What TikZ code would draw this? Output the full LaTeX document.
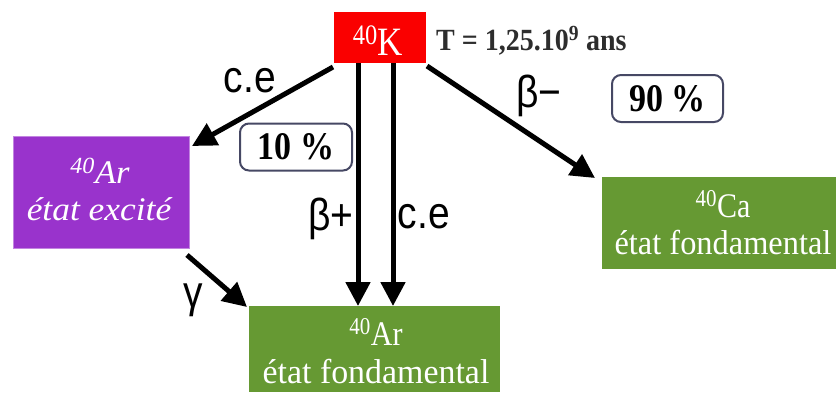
\documentclass[tikz,border=0pt]{standalone}
\usepackage{fontspec}
\setmainfont{Liberation Serif}
\newfontfamily\labfont{Liberation Sans}
\usetikzlibrary{arrows.meta}
\definecolor{kred}{RGB}{250,0,0}
\definecolor{arpurple}{RGB}{153,51,204}
\definecolor{fgreen}{RGB}{102,153,51}
\definecolor{pctborder}{RGB}{70,72,100}
\definecolor{ttext}{RGB}{45,45,45}
\newcommand{\vs}[2][1.15]{\scalebox{1}[#1]{#2}}
\begin{document}
\begin{tikzpicture}[x=1pt,y=-1pt,
  boxrect/.style={draw=none,inner sep=0pt,outer sep=0pt},
  boxtxt/.style={anchor=base,inner sep=0pt,text=white},
  pct/.style={draw=pctborder,line width=2pt,rounded corners=9pt,fill=white,inner sep=0pt,
     minimum width=#1},
  lab/.style={inner sep=0pt,font=\labfont\fontsize{39}{40}\selectfont},
  arr/.style={line width=5pt,-{Triangle[length=24pt,width=24pt]}}]
\useasboundingbox (0,0) rectangle (836,392);
% boxes
\node[boxrect,fill=kred,minimum width=92pt,minimum height=51pt] (K) at (380,37.5) {};
\node[boxrect,fill=arpurple,draw=arpurple!60,line width=1pt,minimum width=176pt,minimum height=112pt] (ArX) at (101,192) {};
\node[boxrect,fill=fgreen,minimum width=234pt,minimum height=92pt] (Ca) at (719,223) {};
\node[boxrect,fill=fgreen,minimum width=251pt,minimum height=86pt] (ArF) at (374.5,349) {};
% box texts
\node[boxtxt,font=\fontsize{35}{40}\selectfont] (Kt) at (378,55) {\vs{\textsuperscript{40}K}};
\node[anchor=base west,inner sep=0pt,text=ttext,font=\bfseries\fontsize{28}{30}\selectfont] (T) at (436,50) {\vs[1.1]{T = 1,25.10\textsuperscript{9} ans}};
\node[boxtxt,font=\itshape\fontsize{30}{34}\selectfont] (ArX1) at (100,183) {\scalebox{1.15}[1.1]{\textsuperscript{40}Ar}};
\node[boxtxt,font=\itshape\fontsize{30}{34}\selectfont] (ArX2) at (99,220) {\scalebox{1.18}[1.1]{état excité}};
\node[boxtxt,font=\fontsize{30}{34}\selectfont] (Ca1) at (723,217) {\vs{\textsuperscript{40}Ca}};
\node[boxtxt,font=\fontsize{30}{34}\selectfont] (Ca2) at (723,254) {\scalebox{1.08}[1.15]{état fondamental}};
\node[boxtxt,font=\fontsize{30}{34}\selectfont] (ArF1) at (376,345) {\vs{\textsuperscript{40}Ar}};
\node[boxtxt,font=\fontsize{30}{34}\selectfont] (ArF2) at (376,383) {\scalebox{1.13}[1.15]{état fondamental}};
% percentages
\node[pct=112pt,minimum height=47pt,font=\bfseries\fontsize{34}{38}\selectfont] (p10) at (296,147) {\vs{10 \%}};
\node[pct=111pt,minimum height=47pt,font=\bfseries\fontsize{34}{38}\selectfont] (p90) at (667.5,98.5) {\vs{90 \%}};
% connector anchors
\coordinate (kA) at (333,67);
\coordinate (kB) at (358,63);
\coordinate (kC) at (393,63);
\coordinate (kD) at (427,66);
\coordinate (xA) at (192,146);
\coordinate (fB) at (358,306);
\coordinate (fC) at (393,306);
\coordinate (cD) at (595,178);
\coordinate (gS) at (187,255);
\coordinate (gE) at (247,307);
\draw[arr] (kA) -- (xA);
\draw[arr] (kB) -- (fB);
\draw[arr] (kC) -- (fC);
\draw[arr] (kD) -- (cD);
\draw[arr] (gS) -- (gE);
% labels
\node[lab] (l1) at (250,81) {\vs{c.e}};
\node[lab] (l2) at (331,219) {\vs{β+}};
\node[lab] (l3) at (424,217) {\vs{c.e}};
\node[lab] (l4) at (539,96) {\vs{β−}};
\node[lab] (l5) at (193,300) {\vs{γ}};
\end{tikzpicture}
\end{document}
